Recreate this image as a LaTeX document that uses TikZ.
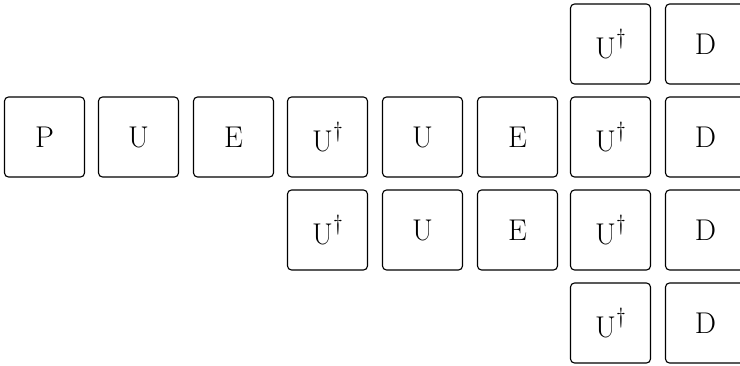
\documentclass[tikz,border=0pt]{standalone}
\tikzset{
  gate/.style={draw, line width=1.1pt, rounded corners=4pt, minimum width=80pt, minimum height=80pt, inner sep=0pt, font=\fontsize{30}{36}\selectfont}
}
\newcommand{\Ud}{U\raisebox{0.44em}{\fontsize{22}{26}\selectfont\textdagger}}
\begin{document}
\begin{tikzpicture}[x=1pt,y=-1pt]
\useasboundingbox (0,0) rectangle (740,365);
% row 1 (top)
\node[gate] (a7) at (610.5,44) {\Ud};
\node[gate] (a8) at (705.5,44) {D};
% row 2
\node[gate] (b1) at (44.5,137) {P};
\node[gate] (b2) at (138.5,137) {U};
\node[gate] (b3) at (233.5,137) {E};
\node[gate] (b4) at (327.5,137) {\Ud};
\node[gate] (b5) at (422.5,137) {U};
\node[gate] (b6) at (517.5,137) {E};
\node[gate] (b7) at (610.5,137) {\Ud};
\node[gate] (b8) at (705.5,137) {D};
% row 3
\node[gate] (c4) at (327.5,230) {\Ud};
\node[gate] (c5) at (422.5,230) {U};
\node[gate] (c6) at (517.5,230) {E};
\node[gate] (c7) at (610.5,230) {\Ud};
\node[gate] (c8) at (705.5,230) {D};
% row 4
\node[gate] (d7) at (610.5,323) {\Ud};
\node[gate] (d8) at (705.5,323) {D};
\end{tikzpicture}
\end{document}
